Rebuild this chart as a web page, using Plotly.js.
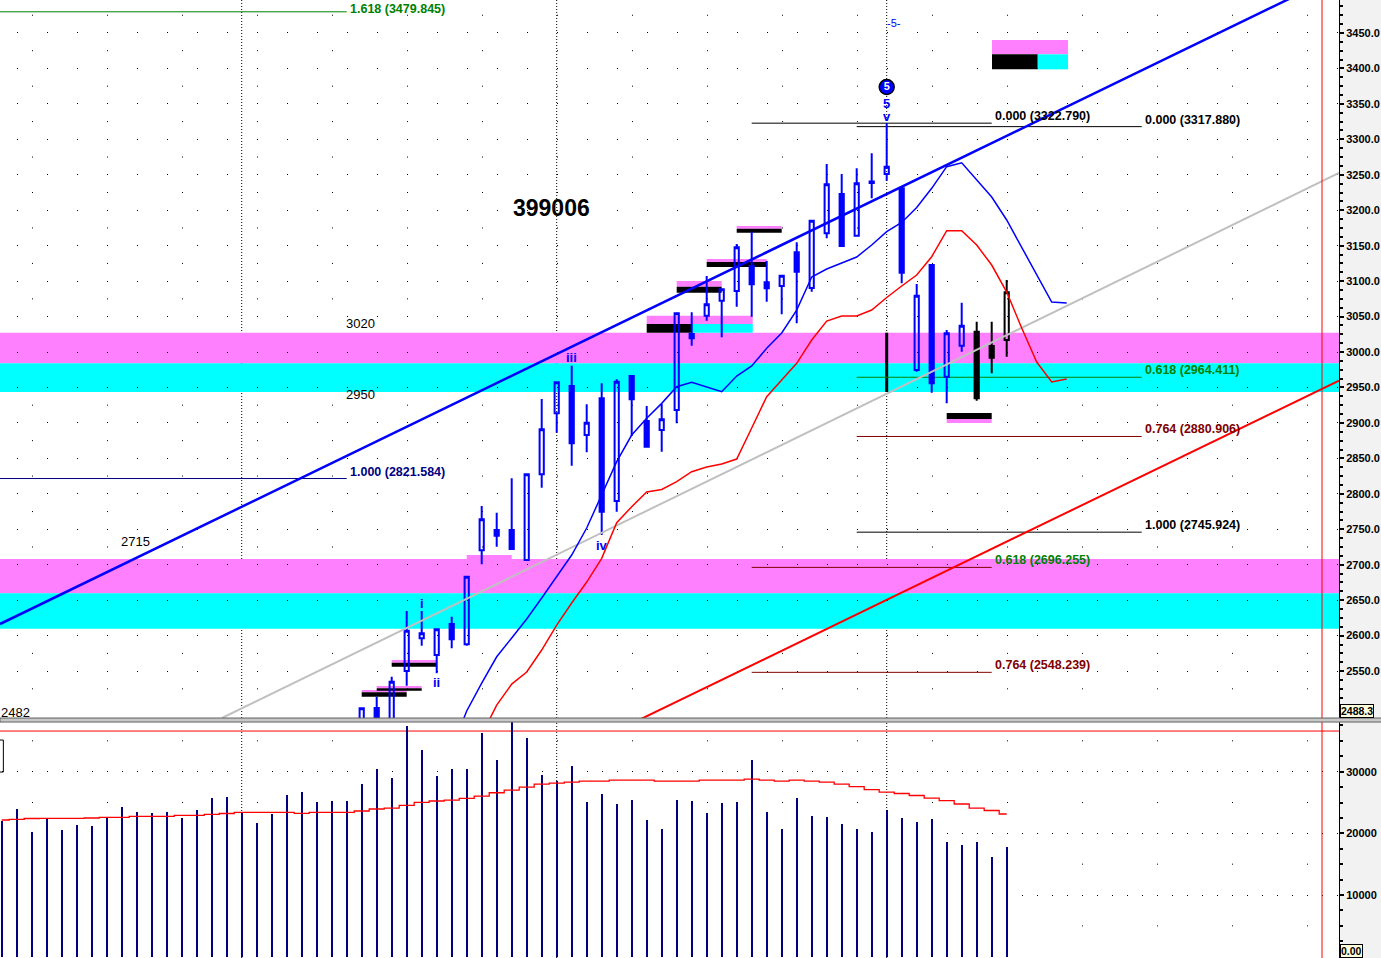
<!DOCTYPE html>
<html><head><meta charset="utf-8">
<script src="https://cdn.plot.ly/plotly-3.0.1.min.js"></script>
<style>html,body{margin:0;padding:0;background:#fff;overflow:hidden}</style>
</head><body><div id="chart" style="width:1381px;height:958px"></div>
<script>
// ---------------- DATA ----------------
const candleIdx = [24,25,26,27,28,29,30,31,32,33,34,35,36,37,38,39,40,41,42,43,44,45,46,47,48,49,50,51,52,53,54,55,56,57,58,59,60,61,62,63,64,65,66,67];
const candleOpen = [2470,2497.9,2475,2550.1,2596.2,2572.6,2616.4,2587.7,2720.3,2748.9,2748.9,2706.6,2827.5,2913.5,2952.0,2882.9,2934.7,2789.8,2966.1,2902.7,2890.0,2918.2,3025.4,3051.2,3072.4,3086.0,3121.3,3098.3,3093.1,3140.6,3090.3,3167.4,3222.8,3164.0,3240.5,3251.1,3230.9,2974.6,3122.7,2965.2,3008.9,3028.6,3008.5,3016.9];
const candleHigh = [2497.5,2513.8,2542.0,2634.7,2634.7,2608.9,2626.7,2683.1,2782.8,2773.3,2821.9,2827.5,2933.7,2957.3,2980.7,2926.2,2955.9,2961.5,2966.1,2923.8,2926.7,3054.6,3056.0,3107.2,3088.4,3152.3,3169.7,3128.3,3107.6,3154.7,3185.2,3265.2,3251.1,3259.1,3280.3,3322.8,3234.1,3095.9,3124.1,3031.0,3069.5,3042.7,3042.7,3101.6];
const candleLow = [2460,2478,2470,2529.3,2585.8,2546.8,2582.1,2585.8,2700.6,2725.4,2721.0,2706.6,2808.6,2886.2,2839.6,2858.5,2741.9,2774.8,2881.5,2866.4,2859.4,2899.4,3008.9,3044.1,3020.7,3063.9,3049.8,3070.9,3053.2,3040.5,3085.0,3160.4,3149.5,3164.0,3216.8,3241.6,3096.9,2972.2,2942.6,2927.6,3000.4,2931.3,2970.0,2993.4];
const candleClose = [2497.5,2485.2,2535.0,2606.9,2603.2,2608.9,2594.8,2683.1,2764.0,2740.9,2722.1,2827.5,2891.0,2957.3,2871.2,2900.3,2774.8,2958.1,2933.3,2866.4,2905.1,3054.6,3019.3,3067.3,3088.4,3147.7,3095.5,3089.8,3107.6,3113.3,3185.2,3236.5,3149.5,3237.9,3238.5,3261.4,3111.8,3079.4,2955.9,3026.4,3037.1,2934.7,2992.0,3084.2];
const blackCandles = [65,66,67];

const maBlueIdx = [30,31,32,33,34,35,36,37,38,39,40,41,42,43,44,45,46,47,48,49,50,51,52,53,54,55,56,57,58,59,60,61,62,63,64,65,66,67,68,69,70,71];
const maBlue = [2440,2493.7,2533.1,2570.2,2596.6,2623.4,2653.0,2682.7,2713.7,2751.8,2798.3,2845.3,2882.9,2906.5,2927.6,2951.1,2957.3,2951.1,2944.0,2966.1,2980.3,3005.2,3026.8,3059.2,3105.8,3117.1,3125.5,3134.0,3150.9,3169.7,3182.7,3203.8,3230.9,3261.4,3267.0,3242.6,3218.6,3186.2,3148.1,3108.6,3070.5,3069.1];
const maRedIdx = [32,33,34,35,36,37,38,39,40,41,42,43,44,45,46,47,48,49,50,51,52,53,54,55,56,57,58,59,60,61,62,63,64,65,66,67,68,69,70,71];
const maRed = [2459.8,2502.1,2531.7,2548.7,2579.7,2614.9,2646.0,2675.6,2709.0,2759.2,2781.8,2802.5,2806.1,2817.1,2831.2,2837.8,2842.0,2849.1,2892.8,2937.0,2960.5,2984.1,3016.9,3043.7,3050.8,3050.8,3059.2,3076.9,3093.1,3108.6,3134.4,3171.1,3171.1,3150.9,3122.7,3084.6,3033.9,2985.9,2957.7,2961.9];

const volume = [22046,23942,20214,22370,20538,21349,21187,22532,24266,23456,23294,23456,22483,23780,25725,25887,23342,21673,23132,26212,26698,25077,25239,25239,27995,30426,28967,37396,33506,29291,30426,30426,36262,31885,38500,35451,29454,28481,30912,25077,26374,24753,25401,22159,20700,25401,25239,23294,24915,25077,31885,23456,20700,25725,22807,22645,21511,20700,20214,23829,22483,21835,22321,18593,18107,18593,16161,17782];
const volumeMA = [22159,22273,22402,22435,22435,22435,22483,22597,22597,22759,22759,22759,22921,22921,23083,23213,23407,23407,23407,23407,23245,23407,23407,23407,23618,23942,24104,24542,25028,25239,25401,25677,26049,26584,27022,27508,27995,28157,28319,28481,28481,28643,28643,28643,28481,28481,28481,28643,28643,28643,28805,28643,28481,28643,28481,28319,27995,27589,27103,26698,26455,26131,25725,25320,24753,24104,23699,23132];
const volumeRef = 36586;

const trendBlue = {x:[-0.113, 89.153], y:[2616.4, 3532.2]};
const trendRed  = {x:[40, 89.153], y:[2455.6, 2959.7]};
const trendGray = {x:[14.69, 89.153], y:[2483.8, 3252.5]};

const zoneUpper = [3027.2, 2984.1, 2943.6];   // pink top, pink/cyan split, cyan bottom
const zoneLower = [2708.0, 2659.7, 2609.7];
const zoneMarkIdx = 59;

const fibLevels = [
  {ratio:'1.618', value:3479.845, from:-1, to:23, line:'#008000', text:'#008000'},
  {ratio:'1.000', value:2821.584, from:-1, to:23, line:'#000080', text:'#000080'},
  {ratio:'0.000', value:3322.790, from:50, to:66, line:'#000000', text:'#000000'},
  {ratio:'0.618', value:2696.255, from:50, to:66, line:'#800000', text:'#008000'},
  {ratio:'0.764', value:2548.239, from:50, to:66, line:'#800000', text:'#800000'},
  {ratio:'0.000', value:3317.880, from:57, to:76, line:'#000000', text:'#000000'},
  {ratio:'0.618', value:2964.411, from:57, to:76, line:'#008000', text:'#008000'},
  {ratio:'0.764', value:2880.906, from:57, to:76, line:'#800000', text:'#800000'},
  {ratio:'1.000', value:2745.924, from:57, to:76, line:'#000000', text:'#000000'}
];

// small level markers: [fromIdx, toIdx, low, high, colour]
const levelMarks = [
  [24,27,2520.1,2523.3,'pink'],[24,27,2513.8,2520.1,'black'],
  [25,28,2525.7,2528.9,'pink'],[25,28,2522.3,2525.7,'black'],
  [26,29,2561.8,2565.6,'pink'],[26,29,2556.1,2561.8,'black'],
  [31,34,2708.0,2713.7,'pink'],
  [43,50.07,3039.5,3051.2,'pink'],[43,46,3027.2,3039.5,'black'],[46,50.07,3027.2,3039.5,'cyan'],
  [45,48,3092.1,3100.1,'pink'],[45,48,3083.6,3092.1,'black'],
  [47,51,3126.9,3131.2,'pink'],[47,51,3119.9,3126.9,'black'],
  [49,52,3173.9,3177.7,'pink'],[49,52,3168.3,3173.9,'black'],
  [63,66,2905.5,2914.0,'black'],[63,66,2899.9,2905.5,'pink'],
  [66.02,71.09,3419.9,3440.1,'pink'],[66.02,69.07,3398.7,3419.9,'black'],[69.07,71.09,3398.7,3419.9,'cyan']
];

const monthLines = [16, 37, 59];
const levelTexts = [
  {t:'3020', x:23.95, y:3040.9}, {t:'2950', x:23.95, y:2940.8},
  {t:'2715', x:8.95, y:2733.4}, {t:'2482', x:0.89, y:2490.9}
];
const waveTexts = [
  {t:'i', x:28, y:2646}, {t:'ii', x:29, y:2534.6}, {t:'iii', x:38, y:2992.9},
  {t:'iv', x:40, y:2727.8}, {t:'5', x:59, y:3351.2}, {t:'v', x:59, y:3331.5}
];
const symbol = '399006';
const lastPrice = '2488.3';

// ---------------- BUILD ----------------
const COL = {pink:'#ff80ff', cyan:'#00ffff', black:'#000000'};
const FONT = 'Liberation Sans, Arial, sans-serif';
const isBlack = i => blackCandles.indexOf(i) >= 0;
function pick(arr, cond){ return arr.filter((v,k)=>cond(candleIdx[k])); }

const traces = [];
const blueSel = i => !isBlack(i);
traces.push({
  type:'candlestick', x:pick(candleIdx,blueSel), open:pick(candleOpen,blueSel), high:pick(candleHigh,blueSel),
  low:pick(candleLow,blueSel), close:pick(candleClose,blueSel), xaxis:'x', yaxis:'y',
  increasing:{line:{color:'#0000ff', width:2}, fillcolor:'rgba(0,0,0,0)'},
  decreasing:{line:{color:'#0000ff', width:2}, fillcolor:'#0000ff'},
  whiskerwidth:0, hoverinfo:'skip', showlegend:false
});
traces.push({
  type:'candlestick', x:pick(candleIdx,isBlack), open:pick(candleOpen,isBlack), high:pick(candleHigh,isBlack),
  low:pick(candleLow,isBlack), close:pick(candleClose,isBlack), xaxis:'x', yaxis:'y',
  increasing:{line:{color:'#000000', width:2}, fillcolor:'rgba(0,0,0,0)'},
  decreasing:{line:{color:'#000000', width:2}, fillcolor:'#000000'},
  whiskerwidth:0, hoverinfo:'skip', showlegend:false
});
// trend lines
traces.push({type:'scatter', mode:'lines', x:trendGray.x, y:trendGray.y, line:{color:'#c0c0c0', width:2}, hoverinfo:'skip', showlegend:false});
traces.push({type:'scatter', mode:'lines', x:trendRed.x, y:trendRed.y, line:{color:'#ff0000', width:2}, hoverinfo:'skip', showlegend:false});
traces.push({type:'scatter', mode:'lines', x:trendBlue.x, y:trendBlue.y, line:{color:'#0000ff', width:2.5}, hoverinfo:'skip', showlegend:false});
// moving averages
traces.push({type:'scatter', mode:'lines', x:maBlueIdx, y:maBlue, line:{color:'#0000ff', width:1.5}, hoverinfo:'skip', showlegend:false});
traces.push({type:'scatter', mode:'lines', x:maRedIdx, y:maRed, line:{color:'#ff0000', width:1.5}, hoverinfo:'skip', showlegend:false});
// circled wave 5
traces.push({type:'scatter', mode:'markers+text', x:[59], y:[3373.8], text:['5'], textposition:'middle center',
  textfont:{family:FONT, size:11, color:'#ffffff', weight:'bold'},
  marker:{symbol:'circle', size:15, color:'#0000ff', line:{color:'#000000', width:1.5}}, hoverinfo:'skip', showlegend:false});
// volume
const volIdx = volume.map((v,k)=>k);
traces.push({type:'bar', x:volIdx, y:volume, width:0.14, marker:{color:'#000080', line:{width:0}}, xaxis:'x2', yaxis:'y2', hoverinfo:'skip', showlegend:false});
traces.push({type:'scatter', mode:'lines', x:volIdx, y:volumeMA, line:{color:'#ff0000', width:1.3, shape:'hvh'}, xaxis:'x2', yaxis:'y2', hoverinfo:'skip', showlegend:false});

const shapes = [];
// axis-area background
shapes.push({type:'rect', xref:'paper', yref:'paper', x0:1, x1:1.05, y0:0, y1:1, fillcolor:'#f2f2f2', line:{width:0}, layer:'below'});
// minor dotted grid rows
for (let p = 2525; p < 3500; p += 50) {
  shapes.push({type:'line', xref:'paper', yref:'y', x0:0, x1:1, y0:p, y1:p, line:{color:'#000', width:1, dash:'0px,32px,1px,42px'}, layer:'below'});
}
for (let v = 5000; v < 38000; v += 10000) {
  shapes.push({type:'line', xref:'paper', yref:'y2', x0:0, x1:1, y0:v, y1:v, line:{color:'#000', width:1, dash:'0px,32px,1px,42px'}, layer:'below'});
}
// month separators
monthLines.forEach(m => shapes.push({type:'line', xref:'x', yref:'paper', x0:m, x1:m, y0:0, y1:1, line:{color:'#000', width:1, dash:'1px,2px'}, layer:'below'}));
// zones
[zoneUpper, zoneLower].forEach(z => {
  shapes.push({type:'rect', xref:'paper', yref:'y', x0:0, x1:1, y0:z[1], y1:z[0], fillcolor:COL.pink, line:{width:0}, layer:'between'});
  shapes.push({type:'rect', xref:'paper', yref:'y', x0:0, x1:1, y0:z[2], y1:z[1], fillcolor:COL.cyan, line:{width:0}, layer:'between'});
});
shapes.push({type:'line', xref:'x', yref:'y', x0:zoneMarkIdx, x1:zoneMarkIdx, y0:zoneUpper[2], y1:zoneUpper[0], line:{color:'#000', width:3}, layer:'between'});
// level markers
levelMarks.forEach(m => shapes.push({type:'rect', xref:'x', yref:'y', x0:m[0], x1:m[1], y0:m[2], y1:m[3], fillcolor:COL[m[4]], line:{width:0}, layer:'between'}));
// fib lines
fibLevels.forEach(f => shapes.push({type:'line', xref:'x', yref:'y', x0:f.from, x1:f.to, y0:f.value, y1:f.value, line:{color:f.line, width:1}, layer:'between'}));
// red vertical marker line
shapes.push({type:'line', xref:'x', yref:'paper', x0:88.02, x1:88.02, y0:0, y1:1, line:{color:'#ff0000', width:1}, layer:'above'});
// volume reference line
shapes.push({type:'line', xref:'paper', yref:'y2', x0:0, x1:1, y0:volumeRef, y1:volumeRef, line:{color:'#ff0000', width:1}, layer:'between'});
// panel separator
shapes.push({type:'rect', xref:'paper', yref:'paper', x0:0, x1:1.05, y0:0.2463, y1:0.2505, fillcolor:'#c8c8c8', line:{color:'#606060', width:1}, layer:'above'});
// small box at left of volume panel
shapes.push({type:'rect', xref:'paper', yref:'y2', x0:-0.01, x1:0.0025, y0:29940, y1:35128, fillcolor:'rgba(0,0,0,0)', line:{color:'#000', width:1}, layer:'above'});

const annotations = [];
annotations.push({x:36.62, y:3203, xref:'x', yref:'y', text:symbol, showarrow:false, font:{family:FONT, size:23, color:'#000', weight:'bold'}});
levelTexts.forEach(t => annotations.push({x:t.x, y:t.y, xref:'x', yref:'y', text:t.t, showarrow:false, font:{family:FONT, size:13, color:'#000'}}));
waveTexts.forEach(t => annotations.push({x:t.x, y:t.y, xref:'x', yref:'y', text:t.t, showarrow:false, font:{family:FONT, size:13, color:'#0000ff', weight:'bold'}}));
annotations.push({x:59.5, y:3464, xref:'x', yref:'y', text:'-5-', showarrow:false, font:{family:FONT, size:11, color:'#0000ff'}});
fibLevels.forEach(f => annotations.push({x:f.to, y:f.value, xref:'x', yref:'y', xanchor:'left', yanchor:'bottom', xshift:1,
  yshift: f.value > 3450 ? -6 : -2,
  text:f.ratio + ' (' + f.value.toFixed(3) + ')', showarrow:false, font:{family:FONT, size:12.5, color:f.text, weight:'bold'}}));
// last-value boxes on the axis
annotations.push({xref:'paper', yref:'paper', x:1, y:0.2505, xanchor:'left', yanchor:'bottom', xshift:1, yshift:0, text:lastPrice, showarrow:false,
  bgcolor:'#ffffe0', bordercolor:'#000', borderwidth:1, borderpad:0, font:{family:FONT, size:10.5, color:'#000', weight:'bold'}});
annotations.push({xref:'paper', yref:'paper', x:1, y:0, xanchor:'left', yanchor:'bottom', xshift:1, yshift:0, text:'0.00', showarrow:false,
  bgcolor:'#ffffe0', bordercolor:'#000', borderwidth:1, borderpad:0, font:{family:FONT, size:10.5, color:'#000', weight:'bold'}});

const priceTicks = []; for (let p = 2550; p <= 3450; p += 50) priceTicks.push(p);
const volTicks = [10000, 20000, 30000];

const layout = {
  width:1381, height:958, margin:{l:0, r:42, t:0, b:0},
  paper_bgcolor:'#ffffff', plot_bgcolor:'#ffffff', showlegend:false,
  boxgap:0.72, boxgroupgap:0, bargap:0,
  xaxis:{domain:[0,1], range:[-0.11333, 89.1533], anchor:'y', showgrid:false, zeroline:false, showticklabels:false, ticks:'', rangeslider:{visible:false}, fixedrange:true},
  xaxis2:{domain:[0,1], range:[-0.11333, 89.1533], anchor:'y2', matches:'x', showgrid:false, zeroline:false, showticklabels:false, ticks:'', fixedrange:true},
  yaxis:{domain:[0.2505, 1], range:[2483.8, 3496.5], side:'right', anchor:'x', tickvals:priceTicks, ticktext:priceTicks.map(p=>p.toFixed(1)),
    ticks:'outside', ticklen:4, tickwidth:2, tickcolor:'#000', showline:true, linecolor:'#000', linewidth:1, zeroline:false,
    showgrid:true, gridcolor:'#000', gridwidth:1, griddash:'0px,17px,1px,12px',
    minor:{dtick:12.5, tick0:0, ticks:'outside', ticklen:3, tickcolor:'#000', showgrid:false},
    tickfont:{family:FONT, size:11, color:'#000', weight:'bold'}, fixedrange:true},
  yaxis2:{domain:[0, 0.2463], range:[-211, 38045], side:'right', anchor:'x2', tickvals:volTicks, ticktext:volTicks.map(v=>String(v)),
    ticks:'outside', ticklen:4, tickwidth:2, tickcolor:'#000', showline:true, linecolor:'#000', linewidth:1, zeroline:false,
    showgrid:true, gridcolor:'#000', gridwidth:1, griddash:'0px,2px,1px,12px',
    minor:{dtick:2500, tick0:0, ticks:'outside', ticklen:3, tickcolor:'#000', showgrid:false},
    tickfont:{family:FONT, size:11, color:'#000', weight:'bold'}, fixedrange:true},
  shapes:shapes, annotations:annotations
};

Plotly.newPlot('chart', traces, layout, {displayModeBar:false, staticPlot:true});
</script>
</body></html>
